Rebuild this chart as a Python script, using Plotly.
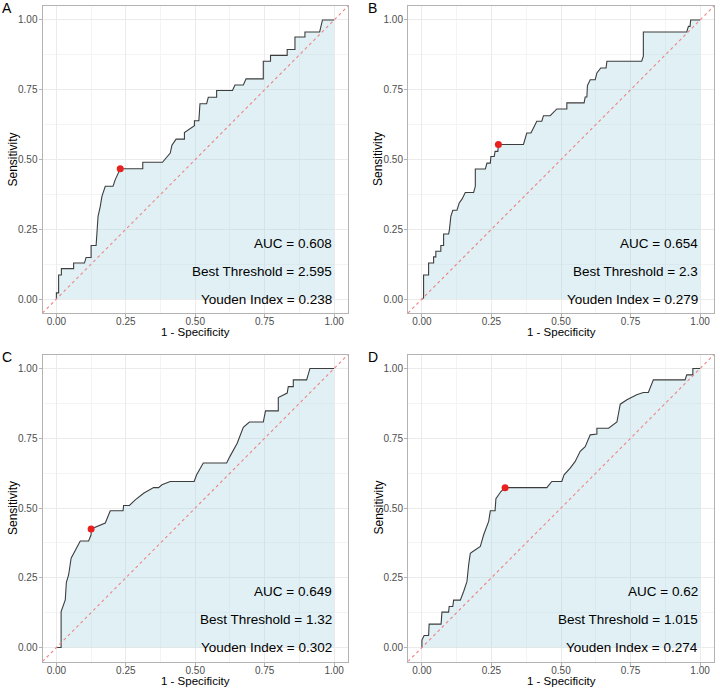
import plotly.graph_objects as go

# ---------------- data ----------------
panels = ["A", "B", "C", "D"]

fpr_a = [0, 0, 0.008, 0.008, 0.018, 0.018, 0.062, 0.062, 0.101, 0.107, 0.125, 0.125, 0.143, 0.146, 0.150,
         0.158, 0.164, 0.176, 0.204, 0.212, 0.220, 0.230, 0.311, 0.311, 0.382, 0.398, 0.410, 0.416, 0.431,
         0.461, 0.461, 0.497, 0.497, 0.513, 0.517, 0.541, 0.547, 0.577, 0.577, 0.634, 0.643, 0.673, 0.683,
         0.745, 0.745, 0.771, 0.771, 0.831, 0.831, 0.859, 0.859, 0.895, 0.895, 0.948, 0.958, 1.0]
tpr_a = [0, 0.022, 0.022, 0.086, 0.086, 0.109, 0.109, 0.129, 0.129, 0.149, 0.149, 0.192, 0.192, 0.237, 0.296,
         0.332, 0.368, 0.404, 0.404, 0.428, 0.443, 0.467, 0.467, 0.490, 0.490, 0.511, 0.523, 0.551, 0.573,
         0.573, 0.597, 0.621, 0.639, 0.639, 0.700, 0.700, 0.723, 0.723, 0.747, 0.747, 0.767, 0.767, 0.789,
         0.789, 0.852, 0.852, 0.873, 0.873, 0.894, 0.894, 0.939, 0.939, 0.957, 0.957, 1.0, 1.0]

fpr_b = [0, 0.006, 0.006, 0.024, 0.024, 0.042, 0.042, 0.050, 0.050, 0.068, 0.068, 0.078, 0.078, 0.096, 0.099,
         0.104, 0.111, 0.126, 0.134, 0.144, 0.156, 0.186, 0.192, 0.192, 0.228, 0.234, 0.246, 0.248, 0.260,
         0.263, 0.273, 0.275, 0.365, 0.377, 0.392, 0.401, 0.413, 0.431, 0.437, 0.461, 0.485, 0.521, 0.521,
         0.583, 0.587, 0.593, 0.595, 0.605, 0.623, 0.629, 0.643, 0.662, 0.665, 0.790, 0.796, 0.796, 0.952,
         0.958, 0.964, 0.966, 1.0]
tpr_b = [0, 0.004, 0.086, 0.086, 0.129, 0.129, 0.151, 0.151, 0.171, 0.171, 0.192, 0.192, 0.233, 0.233, 0.249,
         0.296, 0.318, 0.318, 0.344, 0.358, 0.382, 0.382, 0.404, 0.466, 0.466, 0.487, 0.487, 0.511, 0.511,
         0.529, 0.529, 0.554, 0.554, 0.595, 0.595, 0.615, 0.637, 0.637, 0.657, 0.657, 0.681, 0.681, 0.703,
         0.703, 0.724, 0.724, 0.765, 0.786, 0.786, 0.810, 0.828, 0.828, 0.852, 0.852, 0.870, 0.957, 0.957,
         0.977, 0.977, 1.0, 1.0]

fpr_c = [0, 0.017, 0.017, 0.024, 0.032, 0.036, 0.044, 0.053, 0.068, 0.086, 0.116, 0.125, 0.125, 0.176, 0.194,
         0.240, 0.242, 0.263, 0.284, 0.314, 0.350, 0.368, 0.380, 0.410, 0.496, 0.505, 0.529, 0.613, 0.625,
         0.637, 0.651, 0.673, 0.695, 0.745, 0.753, 0.799, 0.799, 0.831, 0.835, 0.853, 0.853, 0.901, 0.913, 1.0]
tpr_c = [0, 0, 0.129, 0.153, 0.171, 0.234, 0.260, 0.320, 0.346, 0.382, 0.382, 0.404, 0.425, 0.446, 0.490,
         0.490, 0.509, 0.509, 0.529, 0.553, 0.573, 0.573, 0.583, 0.595, 0.595, 0.619, 0.661, 0.661, 0.685,
         0.705, 0.732, 0.789, 0.808, 0.808, 0.848, 0.848, 0.896, 0.912, 0.935, 0.935, 0.959, 0.959, 1.0, 1.0]

fpr_d = [0, 0, 0.008, 0.024, 0.026, 0.069, 0.072, 0.096, 0.098, 0.111, 0.114, 0.138, 0.150, 0.162, 0.168,
         0.174, 0.183, 0.210, 0.222, 0.240, 0.246, 0.263, 0.266, 0.284, 0.299, 0.449, 0.467, 0.503, 0.511,
         0.533, 0.551, 0.569, 0.587, 0.605, 0.629, 0.629, 0.671, 0.701, 0.713, 0.737, 0.772, 0.796, 0.814,
         0.832, 0.946, 0.952, 0.974, 0.974, 1.0]
tpr_d = [0, 0.027, 0.043, 0.043, 0.084, 0.084, 0.127, 0.127, 0.147, 0.147, 0.170, 0.170, 0.201, 0.237, 0.296,
         0.338, 0.344, 0.362, 0.404, 0.452, 0.490, 0.490, 0.533, 0.559, 0.573, 0.573, 0.595, 0.595, 0.619,
         0.643, 0.667, 0.703, 0.720, 0.762, 0.765, 0.786, 0.786, 0.808, 0.872, 0.888, 0.906, 0.914, 0.914,
         0.959, 0.959, 0.977, 0.977, 1.0, 1.0]

best_fpr = [0.230, 0.275, 0.125, 0.299]
best_tpr = [0.467, 0.554, 0.425, 0.573]

auc_vals = ["0.608", "0.654", "0.649", "0.62"]
thresholds = ["2.595", "2.3", "1.32", "1.015"]
youden_vals = ["0.238", "0.279", "0.302", "0.274"]

tick_vals = [0, 0.25, 0.5, 0.75, 1.0]
tick_text = ["0.00", "0.25", "0.50", "0.75", "1.00"]

fprs = [fpr_a, fpr_b, fpr_c, fpr_d]
tprs = [tpr_a, tpr_b, tpr_c, tpr_d]

# ---------------- layout geometry (pixels) ----------------
W, H = 720, 690
x_doms = [(42.5, 348.0), (408.0, 714.0), (42.5, 348.0), (408.0, 714.0)]
y_doms = [(6.0, 313.0), (6.0, 313.0), (354.5, 661.5), (354.5, 661.5)]

FONT = "Liberation Sans, Arial, Helvetica, sans-serif"
fig = go.Figure()
layout = dict(width=W, height=H, margin=dict(l=0, r=0, t=0, b=0),
              paper_bgcolor="white", plot_bgcolor="white", showlegend=False,
              font=dict(family=FONT, color="black"))
annotations = []

for i, p in enumerate(panels):
    xa = "x" if i == 0 else f"x{i+1}"
    ya = "y" if i == 0 else f"y{i+1}"
    xkey = "xaxis" if i == 0 else f"xaxis{i+1}"
    ykey = "yaxis" if i == 0 else f"yaxis{i+1}"
    (x0, x1), (t0, t1) = x_doms[i], y_doms[i]

    # ROC curve with fill
    fig.add_trace(go.Scatter(x=fprs[i], y=tprs[i], mode="lines", fill="tozeroy",
                             fillcolor="rgba(173,216,230,0.38)",
                             line=dict(color="#3d3d3d", width=1.1),
                             xaxis=xa, yaxis=ya, hoverinfo="skip"))
    # diagonal reference
    fig.add_trace(go.Scatter(x=[-0.05, 1.05], y=[-0.05, 1.05], mode="lines",
                             line=dict(color="#EE8585", width=1.1, dash="3px,3px"),
                             xaxis=xa, yaxis=ya, hoverinfo="skip"))
    # best point
    fig.add_trace(go.Scatter(x=[best_fpr[i]], y=[best_tpr[i]], mode="markers",
                             marker=dict(color="#E8211F", size=7),
                             xaxis=xa, yaxis=ya, hoverinfo="skip"))

    axis_common = dict(range=[-0.05, 1.05], tickvals=tick_vals, ticktext=tick_text,
                       showgrid=True, gridcolor="#EBEBEB", gridwidth=1,
                       zeroline=False, showline=True, mirror=True,
                       linecolor="#B3B3B3", linewidth=1,
                       ticks="outside", ticklen=3, tickcolor="#B3B3B3",
                       tickfont=dict(size=10, color="#4D4D4D", family=FONT),
                       minor=dict(tickvals=[0.125, 0.375, 0.625, 0.875], showgrid=True,
                                  gridcolor="#F4F4F4", gridwidth=0.6, ticks=""),
                       fixedrange=True)
    layout[xkey] = dict(axis_common, domain=[x0 / W, x1 / W], anchor=ya, ticklabelstandoff=-4)
    layout[ykey] = dict(axis_common, domain=[1 - t1 / H, 1 - t0 / H], anchor=xa, ticklabelstandoff=-1)

    # texts
    for yv, txt in [(0.2, f"AUC = {auc_vals[i]}"), (0.1, f"Best Threshold = {thresholds[i]}"),
                    (0.0, f"Youden Index = {youden_vals[i]}")]:
        annotations.append(dict(x=1.0, y=yv, xref=xa, yref=ya, text=txt, showarrow=False,
                                xanchor="right", yanchor="middle",
                                font=dict(size=13.5, color="black", family=FONT)))
    # axis titles
    annotations.append(dict(x=(x0 + x1) / 2 / W, y=1 - (t1 + 19.5) / H, xref="paper", yref="paper",
                            text="1 - Specificity", showarrow=False, xanchor="center", yanchor="middle",
                            font=dict(size=11.5, color="black", family=FONT)))
    annotations.append(dict(x=(x0 - 29.5) / W, y=1 - (t0 + t1) / 2 / H, xref="paper", yref="paper",
                            text="Sensitivity", showarrow=False, textangle=-90,
                            xanchor="center", yanchor="middle",
                            font=dict(size=12, color="black", family=FONT)))
    # panel label
    annotations.append(dict(x=(x0 - 35.5) / W, y=1 - (t0 + 2) / H, xref="paper", yref="paper",
                            text=p, showarrow=False, xanchor="center", yanchor="middle",
                            font=dict(size=14, color="black", family=FONT)))

layout["annotations"] = annotations
fig.update_layout(**layout)
fig.write_html("out.html", config={"displayModeBar": False},
               post_script="document.body.style.margin='0';document.body.style.overflow='hidden';")
